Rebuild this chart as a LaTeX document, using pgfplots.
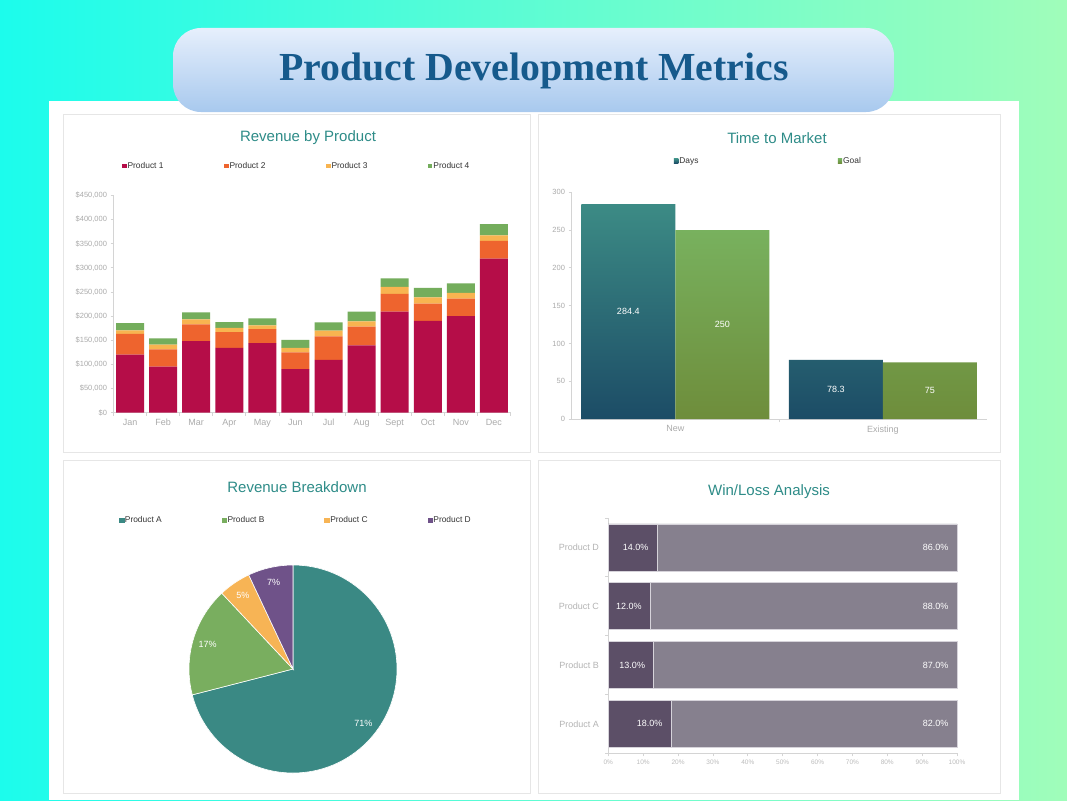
\documentclass[border=0pt]{standalone}
\usepackage{pgfplots}
\pgfplotsset{compat=1.18}
\usepackage{pgfplotstable}
\usepackage{fontspec}
\setmainfont{Liberation Sans}
\newfontfamily\titlefont{Liberation Serif}

\definecolor{bgL}{HTML}{1CFCEC}
\definecolor{bgR}{HTML}{A0FDBA}
\definecolor{tbTop}{HTML}{E6EFFC}
\definecolor{tbBot}{HTML}{A8C9EE}
\definecolor{titleblue}{HTML}{165A8C}
\definecolor{panelteal}{HTML}{2E8C88}
\definecolor{panelborder}{HTML}{E6E6E6}
\definecolor{axisgray}{HTML}{D4D4D4}
\definecolor{tickgray}{HTML}{ABABAB}
\definecolor{legtext}{HTML}{333333}
\definecolor{pA}{HTML}{B50D48}
\definecolor{pB}{HTML}{EE642E}
\definecolor{pC}{HTML}{F8B450}
\definecolor{pD}{HTML}{74AD5C}
\definecolor{dTop}{HTML}{3C8B85}
\definecolor{dBot}{HTML}{1C4C66}
\definecolor{gTop}{HTML}{78B15E}
\definecolor{gBot}{HTML}{6E8D3B}
\definecolor{pieA}{HTML}{3A8984}
\definecolor{pieB}{HTML}{79AE5F}
\definecolor{pieC}{HTML}{F7B455}
\definecolor{pieD}{HTML}{6F5289}
\definecolor{win}{HTML}{5C4F67}
\definecolor{loss}{HTML}{86808E}
\definecolor{barline}{HTML}{D6D3DA}

\pgfplotsset{
  /pgf/number format/assume math mode=true,
  dstyle/.style={scale only axis, enlargelimits=false, clip=false,
    axis line style={draw=axisgray, line width=0.8pt},
    tick style={draw=axisgray, line width=0.8pt},
    tick align=outside, major tick length=3pt, minor tick length=3pt,
    tick label style={text=tickgray}},
  legsq/.style={legend image code/.code={\fill[#1] (0pt,-2.2pt) rectangle (4.4pt,2.2pt);}},
  legbase/.style={legend style={draw=none, fill=none, inner sep=0pt, anchor=west,
    font=\fontsize{8.4}{10}\selectfont, text=legtext, nodes={inner sep=1pt}}},
}

\pgfplotstableread{
m p1 p2 p3 p4
0 120000 43000 7500 15000
1 95000 36000 10000 12500
2 148000 35000 10000 14500
3 134000 32500 9000 12000
4 144000 29000 7500 14500
5 90000 34500 9500 16500
6 109000 49000 12000 17000
7 139000 39000 11000 20000
8 209000 37000 14500 17500
9 190000 36000 12500 20000
10 200000 36000 12000 20000
11 319000 37000 11500 23000
}\revtable

\pgfplotstableread{
pos win loss
0 18 82
1 13 87
2 12 88
3 14 86
}\wltable

\newcommand{\pieslice}[2]{%
  \pgfmathsetmacro{\ea}{\cum-3.6*#1}%
  \pgfmathsetmacro{\ma}{\cum-1.8*#1}%
  \edef\temp{\noexpand\fill[#2,draw=white,line width=0.6pt] (axis cs:0,0) -- +(\cum:104pt) arc[start angle=\cum,end angle=\ea,radius=104pt] -- cycle;
   \noexpand\node[text=white,font=\noexpand\fontsize{9}{10}\noexpand\selectfont] at ([shift={(\ma:89pt)}]axis cs:0,0) {#1\noexpand\%};}%
  \temp
  \global\let\cum\ea}

\begin{document}
\begin{tikzpicture}
\path[use as bounding box] (0,0) rectangle (1067pt,-800pt);
\shade[left color=bgL, right color=bgR] (0,0) rectangle (1067pt,-800pt);
\fill[white] (49pt,-101pt) rectangle (1019pt,-800pt);
\draw[panelborder, line width=0.8pt] (63pt,-114pt) rectangle (530pt,-452pt);
\draw[panelborder, line width=0.8pt] (538pt,-114pt) rectangle (1000pt,-452pt);
\draw[panelborder, line width=0.8pt] (63pt,-460pt) rectangle (530pt,-793pt);
\draw[panelborder, line width=0.8pt] (538pt,-460pt) rectangle (1000pt,-793pt);
\shade[top color=tbTop, bottom color=tbBot, rounded corners=28pt] (173pt,-28pt) rectangle (894pt,-112pt);
\node[anchor=base, text=titleblue, font=\titlefont\bfseries\fontsize{39.75}{44}\selectfont] at (534pt,-80pt) {Product Development Metrics};

\node[anchor=base, text=panelteal, font=\fontsize{15}{18}\selectfont] at (308pt,-141pt) {Revenue by Product};
\node[anchor=base, text=panelteal, font=\fontsize{15}{18}\selectfont] at (777pt,-143pt) {Time to Market};
\node[anchor=base, text=panelteal, font=\fontsize{15}{18}\selectfont] at (297pt,-492pt) {Revenue Breakdown};
\node[anchor=base, text=panelteal, font=\fontsize{15}{18}\selectfont] at (769pt,-495pt) {Win/Loss Analysis};

% Revenue by Product
\begin{axis}[dstyle, legbase, at={(113.5pt,-412.5pt)}, anchor=south west,
  width=397pt, height=217pt,
  ybar stacked, bar width=28pt,
  xmin=-0.5, xmax=11.5, ymin=0, ymax=450000,
  axis lines*=left,
  xtick={0,...,11}, xticklabels={Jan,Feb,Mar,Apr,May,Jun,Jul,Aug,Sept,Oct,Nov,Dec},
  minor xtick={-0.5,0.5,...,11.5}, major x tick style={draw=none},
  ytick={0,50000,...,450000}, scaled y ticks=false,
  yticklabels={{\$0},{\$50,000},{\$100,000},{\$150,000},{\$200,000},{\$250,000},{\$300,000},{\$350,000},{\$400,000},{\$450,000}},
  xticklabel style={font=\fontsize{9}{10}\selectfont},
  yticklabel style={font=\fontsize{7.5}{9}\selectfont},
  legend columns=4,
  legend style={at={(0.0214,1.136)}, /tikz/every even column/.append style={column sep=59.6pt}},
]
\addplot[fill=pA, draw=none, legsq=pA] table[x=m,y=p1]{\revtable};
\addlegendentry{Product 1}
\addplot[fill=pB, draw=none, legsq=pB] table[x=m,y=p2]{\revtable};
\addlegendentry{Product 2}
\addplot[fill=pC, draw=none, legsq=pC] table[x=m,y=p3]{\revtable};
\addlegendentry{Product 3}
\addplot[fill=pD, draw=none, legsq=pD] table[x=m,y=p4]{\revtable};
\addlegendentry{Product 4}
\end{axis}

% Time to Market
\begin{axis}[dstyle, legbase, at={(571.5pt,-419pt)}, anchor=south west,
  width=415pt, height=226.7pt,
  ybar=0pt, bar width=94pt,
  xmin=-0.5, xmax=1.5, ymin=0, ymax=300,
  axis lines*=left,
  xtick={0,1}, xticklabels={New,Existing},
  minor xtick={0.5}, major x tick style={draw=none},
  ytick={0,50,...,300},
  xticklabel style={font=\fontsize{9}{10}\selectfont},
  yticklabel style={font=\fontsize{7.5}{9}\selectfont},
  nodes near coords,
  visualization depends on=rawy \as \rawy,
  every node near coord/.append style={text=white, font=\fontsize{9}{10}\selectfont, anchor=center, shift={(axis direction cs:0,-\rawy/2)}},
  legend columns=2,
  legend style={at={(0.2464,1.138)}, /tikz/every even column/.append style={column sep=138.3pt}},
]
\addplot[top color=dTop, bottom color=dBot, draw=none, legsq=dBot!80!dTop] coordinates {(0,284.4) (1,78.3)};
\addlegendentry{Days}
\addplot[top color=gTop, bottom color=gBot, draw=none, legsq=gTop] coordinates {(0,250) (1,75)};
\addlegendentry{Goal}
\end{axis}

% Revenue Breakdown
\begin{axis}[legbase, at={(293pt,-669pt)}, anchor=center, scale only axis,
  width=208pt, height=208pt, xmin=-104, xmax=104, ymin=-104, ymax=104,
  hide axis, clip=false,
  legend columns=4,
  legend style={at={(-0.337,1.216)}, /tikz/every even column/.append style={column sep=59.0pt}},
]
\addlegendimage{legsq=pieA}\addlegendentry{Product A}
\addlegendimage{legsq=pieB}\addlegendentry{Product B}
\addlegendimage{legsq=pieC}\addlegendentry{Product C}
\addlegendimage{legsq=pieD}\addlegendentry{Product D}
\gdef\cum{90}
\pieslice{71}{pieA}
\pieslice{17}{pieB}
\pieslice{5}{pieC}
\pieslice{7}{pieD}
\end{axis}

% Win/Loss Analysis
\begin{axis}[dstyle, at={(608.3pt,-753.3pt)}, anchor=south west,
  width=348.7pt, height=235.3pt,
  xbar stacked, bar width=47pt,
  xmin=0, xmax=100, ymin=-0.5, ymax=3.5,
  axis lines*=left,
  ytick={0,1,2,3}, yticklabels={Product A,Product B,Product C,Product D},
  minor ytick={-0.5,0.5,1.5,2.5,3.5}, major y tick style={draw=none},
  xtick={0,10,...,100},
  xticklabels={0\%,10\%,20\%,30\%,40\%,50\%,60\%,70\%,80\%,90\%,100\%},
  xticklabel style={font=\fontsize{6.5}{8}\selectfont, text=tickgray!80!white},
  yticklabel style={font=\fontsize{9}{10}\selectfont, xshift=-3pt, text=tickgray!90!white},
  point meta=explicit,
  visualization depends on=rawx \as \rawx,
  nodes near coords={\pgfmathprintnumber[fixed,fixed zerofill,precision=1]{\pgfplotspointmeta}\%},
  every node near coord/.append style={text=white, font=\fontsize{9}{10}\selectfont, anchor=east, shift={(axis direction cs:\rawx/2,0)}, xshift=-5pt},
]
\addplot[fill=win, draw=barline, line width=0.6pt] table[x=win,y=pos,meta=win]{\wltable};
\addplot[fill=loss, draw=barline, line width=0.6pt] table[x=loss,y=pos,meta=loss]{\wltable};
\end{axis}
\end{tikzpicture}
\end{document}
